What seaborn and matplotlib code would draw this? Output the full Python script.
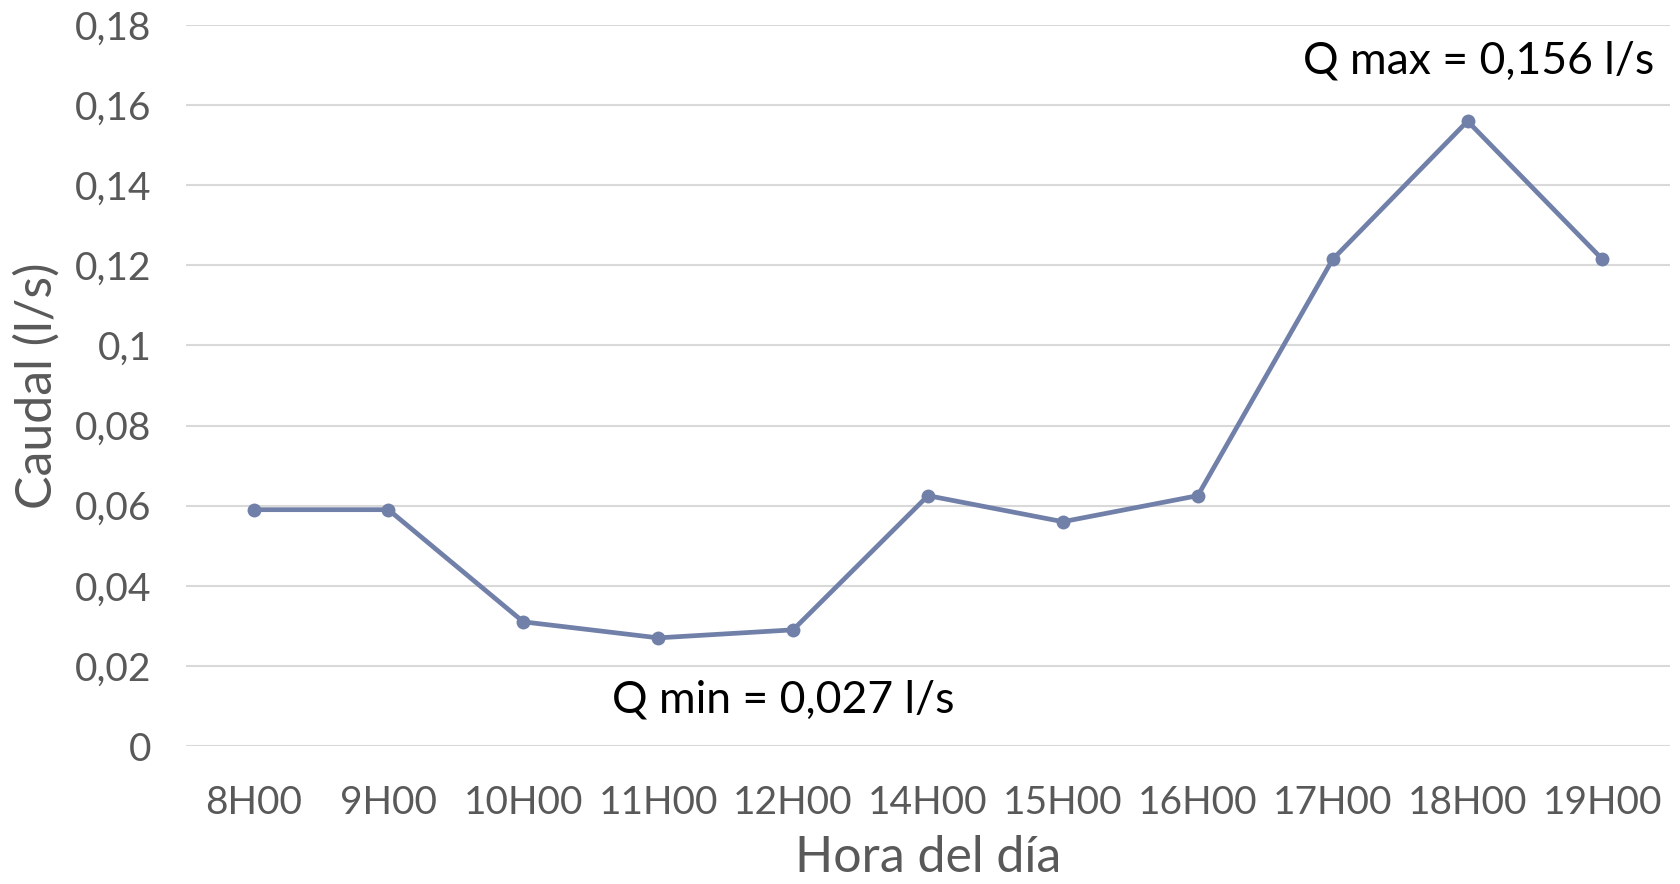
import matplotlib
matplotlib.use("Agg")
import matplotlib.pyplot as plt
import seaborn as sns
import pandas as pd
from matplotlib.ticker import FuncFormatter, MultipleLocator

horas = ["8H00", "9H00", "10H00", "11H00", "12H00", "14H00",
         "15H00", "16H00", "17H00", "18H00", "19H00"]
caudal = [0.059, 0.059, 0.031, 0.027, 0.029, 0.0625,
          0.056, 0.0625, 0.1215, 0.156, 0.1215]

etiqueta_max = "Q max = 0,156 l/s"
etiqueta_min = "Q min = 0,027 l/s"

df = pd.DataFrame({"Hora": horas, "Caudal": caudal})

sns.set_theme(style="white")
plt.rcParams["font.family"] = ["Lato", "DejaVu Sans"]

fig = plt.figure(figsize=(16.81, 8.84), dpi=100)
ax = fig.add_axes([0.1107, 0.1561, 0.8827, 0.8156])

color_linea = "#7180A8"
sns.lineplot(data=df, x="Hora", y="Caudal", sort=False, ax=ax,
             color=color_linea, linewidth=3.4, marker="o",
             markersize=10, markeredgewidth=0, zorder=3)

ax.set_xlim(-0.5, len(horas) - 0.5)
ax.set_ylim(0, 0.18)
ax.yaxis.set_major_locator(MultipleLocator(0.02))
ax.yaxis.set_major_formatter(
    FuncFormatter(lambda v, _: ("%g" % round(v, 3)).replace(".", ",")))

ax.grid(axis="y", color="#D9D9D9", linewidth=1.5)
ax.grid(axis="x", visible=False)
ax.set_axisbelow(True)
for s in ax.spines.values():
    s.set_visible(False)

ax.tick_params(axis="both", length=0, labelsize=28, labelcolor="#595959")
ax.tick_params(axis="x", pad=28)
ax.tick_params(axis="y", pad=25)

ax.set_xlabel("Hora del día", fontsize=36, color="#595959", labelpad=10)
ax.set_ylabel("Caudal (l/s)", fontsize=36, color="#595959", labelpad=10)

i_max = caudal.index(max(caudal))
i_min = caudal.index(min(caudal))
ax.text(i_max + 0.08, 0.171, etiqueta_max, fontsize=32, color="black",
        ha="center", va="center")
ax.text(i_min + 0.93, 0.0115, etiqueta_min, fontsize=32, color="black",
        ha="center", va="center")

fig.savefig("out.png", dpi=100)
